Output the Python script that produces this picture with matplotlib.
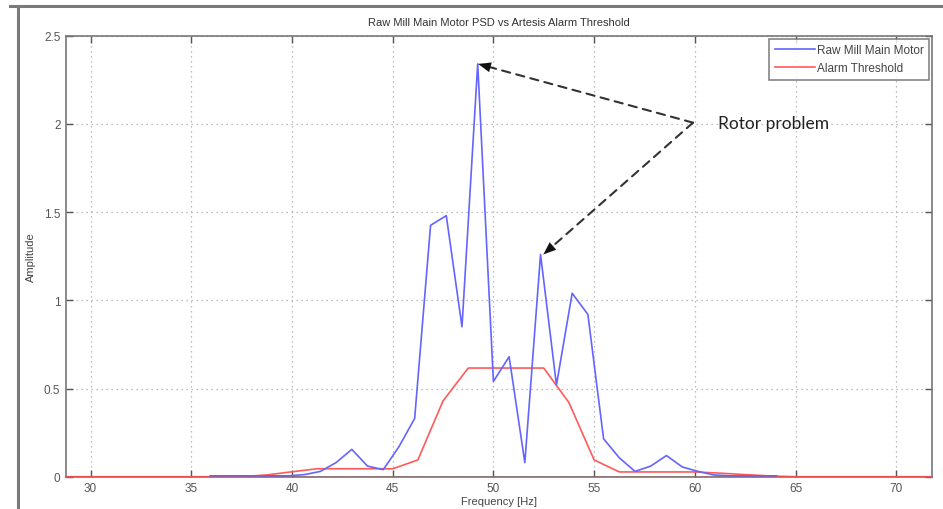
import numpy as np
import matplotlib
matplotlib.use('Agg')
import matplotlib.pyplot as plt
from matplotlib.lines import Line2D

# PSD bins are 0.78125 Hz apart
blue_freq = [35.94, 36.72, 37.50, 38.28, 39.06, 39.84, 40.63, 41.41, 42.19, 42.97,
             43.75, 44.53, 45.31, 46.09, 46.88, 47.66, 48.44, 49.22, 50.00, 50.78,
             51.56, 52.34, 53.13, 53.91, 54.69, 55.47, 56.25, 57.03, 57.81, 58.59,
             59.38, 60.16, 60.94, 61.72, 62.50, 63.28, 64.06]
blue_amp = [0.005, 0.005, 0.005, 0.005, 0.005, 0.005, 0.012, 0.03, 0.08, 0.155,
            0.06, 0.04, 0.17, 0.33, 1.425, 1.48, 0.85, 2.34, 0.54, 0.68,
            0.08, 1.26, 0.52, 1.04, 0.92, 0.215, 0.107, 0.03, 0.06, 0.12,
            0.055, 0.03, 0.01, 0.005, 0.005, 0.005, 0.005]

# alarm threshold, 1.25 Hz steps
red_freq = [25.0, 26.25, 27.5, 28.75, 30.0, 31.25, 32.5, 33.75, 35.0, 36.25,
            37.5, 38.75, 40.0, 41.25, 42.5, 43.75, 45.0, 46.25, 47.5, 48.75,
            50.0, 51.25, 52.5, 53.75, 55.0, 56.25, 57.5, 58.75, 60.0, 61.25,
            62.5, 63.75, 65.0, 66.25, 67.5, 68.75, 70.0, 71.25, 72.5, 73.75, 75.0]
red_amp = [0, 0, 0, 0, 0, 0, 0, 0, 0, 0,
           0.0, 0.01, 0.028, 0.045, 0.045, 0.045, 0.045, 0.095, 0.43, 0.616,
           0.616, 0.616, 0.616, 0.42, 0.095, 0.027, 0.027, 0.027, 0.027, 0.02,
           0.012, 0.004, 0, 0, 0, 0, 0, 0, 0, 0, 0]

x_ticks = [30, 35, 40, 45, 50, 55, 60, 65, 70]
y_ticks = [0, 0.5, 1, 1.5, 2, 2.5]
y_tick_labels = ['0', '0.5', '1', '1.5', '2', '2.5']

label_font = ['Liberation Sans Narrow', 'Liberation Sans', 'DejaVu Sans']
plt.rcParams['font.family'] = label_font

fig = plt.figure(figsize=(9.43, 5.10), dpi=100)
ax = fig.add_axes([66 / 943, 32.3 / 510, (932.3 - 66) / 943, (477.7 - 36.7) / 510])

ax.plot(red_freq, red_amp, color='#ff5a5a', lw=1.2, label='Alarm Threshold', zorder=3)
ax.plot(blue_freq, blue_amp, color='#6464ff', lw=1.2, label='Raw Mill Main Motor', zorder=4)
ax.axhline(0, color='#a03030', lw=1.0, zorder=5)

ax.set_xlim(28.78, 71.79)
ax.set_ylim(0, 2.5)
ax.set_xticks(x_ticks)
ax.set_yticks(y_ticks)
ax.set_yticklabels(y_tick_labels)
ax.grid(True, linestyle=(0, (1, 3)), color='#a8a8a8', lw=0.9)
ax.tick_params(direction='in', length=5, top=True, right=True, labelsize=8.5,
               colors='#555555', width=1, pad=4)
for s in ax.spines.values():
    s.set_color('#777777')
    s.set_linewidth(1.2)

ax.set_title('Raw Mill Main Motor PSD vs Artesis Alarm Threshold', fontsize=8,
             color='#333333', pad=8)
ax.set_xlabel('Frequency [Hz]', fontsize=8, color='#444444', labelpad=1)
ax.set_ylabel('Amplitude', fontsize=8, color='#444444', labelpad=6)

# legend: blue first like the original
h, l = ax.get_legend_handles_labels()
leg = ax.legend(h[::-1], l[::-1], loc='upper right', fontsize=8.5, frameon=True,
                fancybox=False, borderpad=0.45, handlelength=3.4, handletextpad=0.2,
                labelspacing=0.55, borderaxespad=0.25)
leg.get_frame().set_edgecolor('#666666')
leg.get_frame().set_linewidth(1.2)
for t in leg.get_texts():
    t.set_color('#444444')

# annotation with dashed arrows
start = (59.91, 2.007)
tips = [(49.24, 2.34), (52.48, 1.26)]
for tx, ty in tips:
    ax.annotate('', xy=(tx, ty), xytext=start,
                arrowprops=dict(arrowstyle='-', linestyle=(0, (4, 3)), color='#333333',
                                lw=1.5, shrinkA=0, shrinkB=4), zorder=6)
    ax.annotate('', xy=(tx, ty), xytext=(tx + (start[0] - tx) * 0.08, ty + (start[1] - ty) * 0.08),
                arrowprops=dict(arrowstyle='-|>,head_length=0.9,head_width=0.35',
                                color='#111111', lw=0.1, shrinkA=0, shrinkB=0), zorder=6)
ax.text(61.15, 2.007, 'Rotor problem', fontsize=12.5, family=['Lato', 'DejaVu Sans'],
        color='#222222', va='center', ha='left', zorder=7)

# screenshot frame
fig.add_artist(Line2D([18 / 943, 18 / 943], [0, 1 - 7 / 510], transform=fig.transFigure,
                      color='#7a7a7a', lw=2.2))
fig.add_artist(Line2D([10 / 943, 1], [1 - 7 / 510, 1 - 7 / 510], transform=fig.transFigure,
                      color='#7a7a7a', lw=2.2))

fig.savefig('out.png', dpi=100)
